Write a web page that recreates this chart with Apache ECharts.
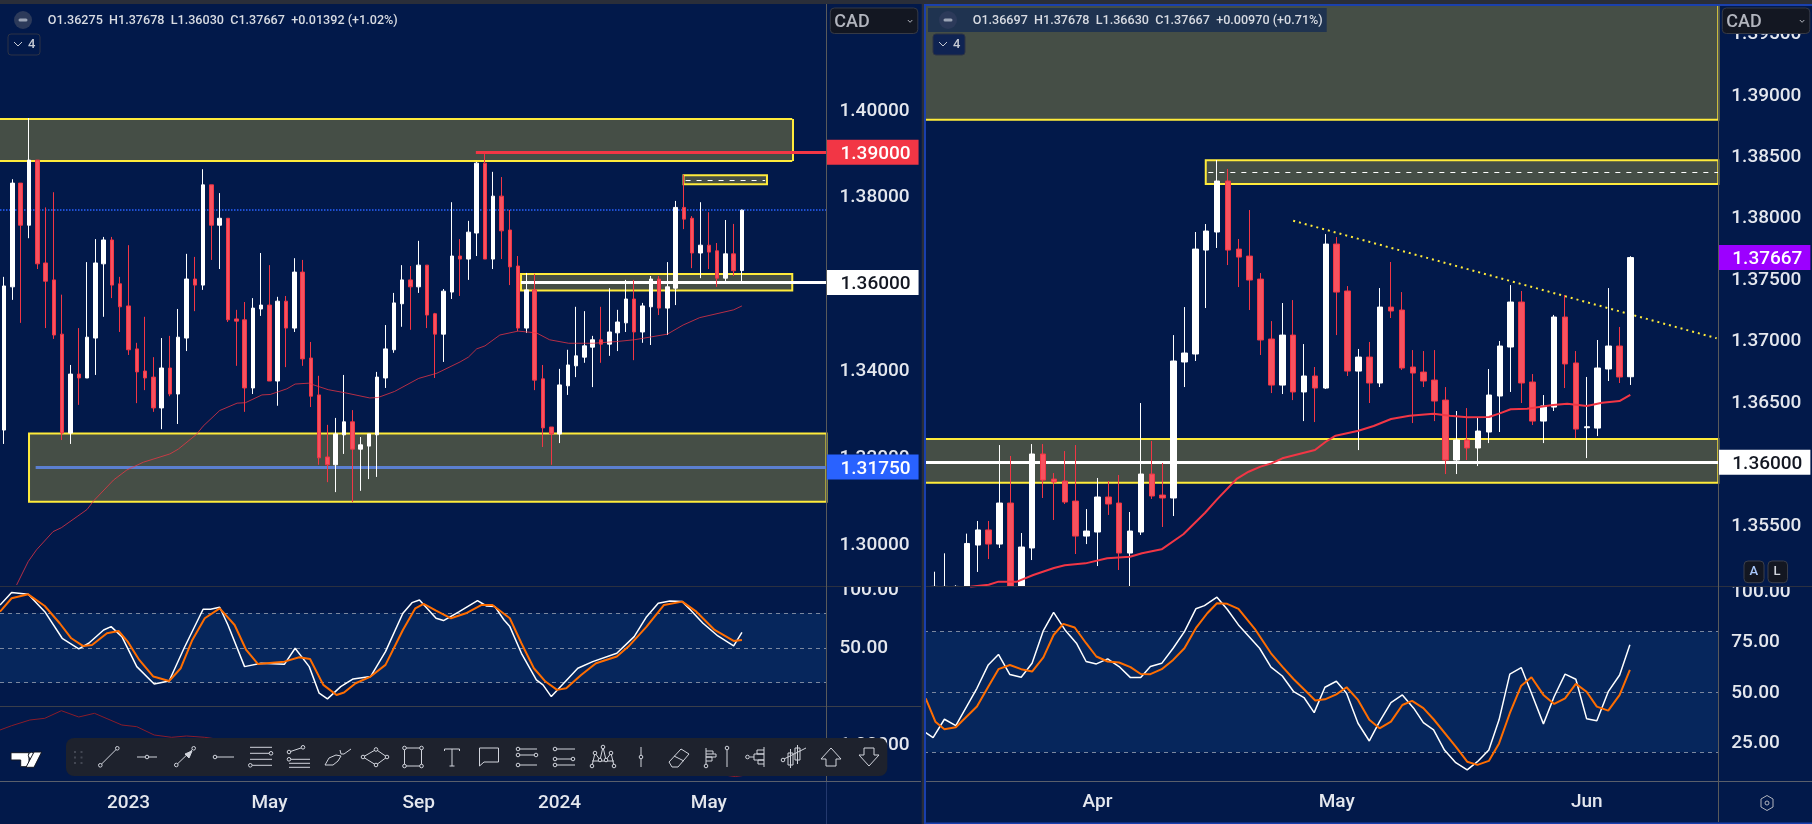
<!DOCTYPE html>
<html>
<head>
<meta charset="utf-8">
<title>USDCAD</title>
<style>html,body{margin:0;padding:0;background:#02194a;overflow:hidden}#chart{width:1812px;height:824px}</style>
<script src="https://cdn.jsdelivr.net/npm/echarts@6/dist/echarts.min.js"></script>
</head>
<body>
<div id="chart"></div>
<script>
// weekly candles, left chart: open, close, low, high
var weeklyCandles = [
[1.3260,1.3592,1.3228,1.3613],[1.3590,1.3829,1.3560,1.3838],[1.3829,1.3732,1.3507,1.3829],[1.3732,1.3882,1.3702,1.3979],
[1.3882,1.3643,1.3631,1.3882],[1.3645,1.3603,1.3495,1.3773],[1.3606,1.3479,1.3470,1.3808],[1.3481,1.3253,1.3237,1.3572],
[1.3253,1.3389,1.3228,1.3410],[1.3389,1.3380,1.3318,1.3495],[1.3380,1.3474,1.3380,1.3647],[1.3472,1.3645,1.3387,1.3700],
[1.3643,1.3698,1.3521,1.3705],[1.3698,1.3594,1.3564,1.3705],[1.3597,1.3544,1.3486,1.3613],[1.3546,1.3445,1.3433,1.3686],
[1.3447,1.3394,1.3322,1.3461],[1.3396,1.3380,1.3352,1.3521],[1.3382,1.3311,1.3302,1.3428],[1.3311,1.3403,1.3262,1.3472],
[1.3403,1.3343,1.3338,1.3477],[1.3343,1.3474,1.3274,1.3539],[1.3472,1.3608,1.3442,1.3666],[1.3608,1.3594,1.3534,1.3659],
[1.3594,1.3825,1.3583,1.3861],[1.3825,1.3732,1.3652,1.3825],[1.3732,1.3748,1.3631,1.3806],[1.3748,1.3514,1.3509,1.3748],
[1.3516,1.3511,1.3408,1.3537],[1.3514,1.3357,1.3302,1.3555],[1.3357,1.3541,1.3343,1.3564],[1.3539,1.3548,1.3523,1.3668],
[1.3548,1.3373,1.3373,1.3640],[1.3373,1.3557,1.3316,1.3567],[1.3557,1.3495,1.3405,1.3569],[1.3495,1.3624,1.3486,1.3656],
[1.3624,1.3424,1.3408,1.3652],[1.3426,1.3338,1.3313,1.3463],[1.3341,1.3196,1.3180,1.3385],[1.3198,1.3180,1.3140,1.3272],
[1.3180,1.3251,1.3117,1.3288],[1.3249,1.3279,1.3205,1.3387],[1.3279,1.3216,1.3094,1.3306],[1.3216,1.3226,1.3120,1.3244],
[1.3223,1.3251,1.3147,1.3251],[1.3249,1.3382,1.3152,1.3394],[1.3380,1.3447,1.3357,1.3502],[1.3445,1.3553,1.3438,1.3576],
[1.3551,1.3606,1.3498,1.3640],[1.3606,1.3590,1.3491,1.3638],[1.3590,1.3640,1.3576,1.3696],[1.3640,1.3525,1.3495,1.3640],
[1.3528,1.3481,1.3380,1.3530],[1.3481,1.3580,1.3417,1.3585],[1.3578,1.3661,1.3562,1.3785],[1.3661,1.3654,1.3569,1.3700],
[1.3654,1.3716,1.3606,1.3742],[1.3714,1.3875,1.3661,1.3878],[1.3875,1.3654,1.3654,1.3896],[1.3654,1.3799,1.3631,1.3855],
[1.3799,1.3719,1.3654,1.3843],[1.3721,1.3636,1.3594,1.3767],[1.3638,1.3495,1.3488,1.3661],[1.3495,1.3583,1.3484,1.3622],
[1.3583,1.3375,1.3352,1.3620],[1.3378,1.3265,1.3221,1.3410],[1.3267,1.3251,1.3180,1.3267],[1.3251,1.3364,1.3230,1.3401],
[1.3362,1.3410,1.3341,1.3445],[1.3408,1.3431,1.3382,1.3544],[1.3428,1.3454,1.3415,1.3534],[1.3451,1.3468,1.3359,1.3477],
[1.3468,1.3458,1.3415,1.3544],[1.3458,1.3486,1.3431,1.3587],[1.3484,1.3509,1.3442,1.3537],[1.3507,1.3562,1.3486,1.3606],
[1.3562,1.3486,1.3421,1.3606],[1.3486,1.3546,1.3461,1.3553],[1.3544,1.3608,1.3456,1.3615],[1.3608,1.3541,1.3525,1.3615],
[1.3541,1.3590,1.3479,1.3647],[1.3587,1.3773,1.3548,1.3788],[1.3773,1.3746,1.3723,1.3848],[1.3748,1.3668,1.3633,1.3753],
[1.3668,1.3686,1.3610,1.3785],[1.3686,1.3670,1.3631,1.3762],[1.3673,1.3610,1.3590,1.3691],[1.3610,1.3666,1.3601,1.3744],
[1.3666,1.3627,1.3615,1.3735],[1.36275,1.37667,1.36030,1.37678]
];
// daily candles, right chart. First few run off the bottom of the pane, kept at the pane edge
var dailyCandles = [
[1.3499,1.3499,1.3499,1.3511],[1.3499,1.3499,1.3499,1.3526],[1.3499,1.3499,1.3499,1.3500],[1.3499,1.3534,1.3499,1.3542],
[1.35327,1.3545,1.35108,1.35523],[1.3545,1.35335,1.35213,1.35523],[1.35335,1.35669,1.35303,1.36141],[1.35669,1.3499,1.3499,1.36052],
[1.3499,1.35311,1.3499,1.35425],[1.35303,1.36068,1.35205,1.36149],[1.36068,1.35856,1.3571,1.36149],[1.35864,1.3584,1.35531,1.35913],
[1.35848,1.35677,1.35661,1.36092],[1.35685,1.354,1.35254,1.36141],[1.354,1.35441,1.35335,1.3562],[1.35433,1.35718,1.35156,1.35873],
[1.35718,1.35661,1.35572,1.35848],[1.35669,1.35262,1.35124,1.35897],[1.35262,1.35441,1.3499,1.35596],[1.35433,1.35905,1.35409,1.36483],
[1.35905,1.35726,1.35702,1.36174],[1.35734,1.3571,1.35474,1.35995],[1.3571,1.36825,1.35563,1.37036],[1.36817,1.3689,1.36613,1.37264],
[1.36882,1.37736,1.36825,1.37875],[1.37728,1.37883,1.37256,1.3794],[1.37875,1.3829,1.37745,1.38461],[1.3829,1.37728,1.37606,1.38388],
[1.37736,1.37671,1.37427,1.37818],[1.37679,1.37484,1.3724,1.38054],[1.37492,1.36996,1.36874,1.37541],[1.37004,1.36629,1.36564,1.3715],
[1.36629,1.37036,1.36556,1.37297],[1.37036,1.36573,1.36507,1.37321],[1.36573,1.36703,1.36336,1.36963],[1.36703,1.36605,1.36328,1.36776],
[1.36605,1.37777,1.36597,1.37858],[1.37777,1.37386,1.37036,1.37834],[1.37395,1.36743,1.36703,1.37435],[1.36743,1.36857,1.361,1.36923],
[1.36857,1.36646,1.36483,1.3698],[1.36646,1.37264,1.36613,1.37419],[1.37264,1.37232,1.37175,1.37631],[1.3724,1.36768,1.36752,1.37386],
[1.36776,1.36727,1.3632,1.36914],[1.36735,1.36662,1.36613,1.36906],[1.3667,1.36499,1.36336,1.36914],[1.36507,1.36019,1.35905,1.36613],
[1.36019,1.36182,1.35905,1.36418],[1.36182,1.36117,1.36019,1.36442],[1.36117,1.36255,1.3597,1.36361],[1.36247,1.36548,1.36157,1.3676],
[1.3654,1.36947,1.36247,1.36988],[1.36939,1.37305,1.36573,1.37443],[1.37305,1.36646,1.36483,1.37395],[1.36654,1.36336,1.36304,1.36719],
[1.36336,1.36459,1.36157,1.36548],[1.3645,1.37183,1.36418,1.372],[1.37183,1.36801,1.36605,1.37362],[1.36809,1.36271,1.36198,1.36906],
[1.36282,1.3629,1.36035,1.36695],[1.36279,1.36768,1.36214,1.36996],[1.3676,1.36947,1.36662,1.37419],[1.36947,1.36695,1.36646,1.37102],
[1.36697,1.37667,1.3663,1.37678]
];
// moving averages: [candle index, price]
var weeklyMA = [[1.5,1.2903],[2.9,1.2957],[3.9,1.2984],[5.9,1.3026],[6.9,1.3035],[8.9,1.3062],[10,1.3077],[10.8,1.3097],[13.2,1.3145],[14.8,1.3168],[16.8,1.3186],[20,1.3205],[21,1.3216],[23.2,1.3250],[24,1.3269],[26,1.3305],[28.1,1.3322],[29.1,1.3323],[31.1,1.3341],[32.1,1.3342],[34.1,1.3355],[35.1,1.3366],[36.7,1.3368],[39.1,1.3353],[41.1,1.3346],[44.1,1.3334],[45.1,1.3335],[47.1,1.3349],[50,1.3379],[52.2,1.3391],[55,1.3417],[56,1.3428],[57,1.3447],[58,1.3454],[59.8,1.3479],[62,1.3488],[64.2,1.3484],[65.8,1.3468],[68.1,1.3460],[71.1,1.3460],[73.9,1.3464],[76,1.3468],[80,1.3481],[81.9,1.3502],[83.9,1.3519],[88,1.3537],[89,1.3546]];
var dailyMA = [[3.3,1.34988],[5,1.35004],[5.9,1.35029],[7.6,1.35029],[9.1,1.35083],[11,1.3514],[12,1.35162],[13.9,1.35178],[15.9,1.35219],[18,1.35232],[19.1,1.3526],[20.9,1.35292],[22.9,1.35415],[24.9,1.3559],[26,1.35699],[27.8,1.35865],[28.9,1.35924],[30,1.35965],[31,1.35992],[32,1.36033],[35,1.361],[36,1.36168],[36.9,1.36217],[39,1.36258],[40.4,1.36296],[42,1.36353],[43.7,1.3638],[45.9,1.36396],[47.4,1.3638],[49,1.36367],[51,1.36369],[52,1.36399],[53,1.36432],[54.5,1.36437],[56.9,1.36467],[58.2,1.36477],[60,1.36459],[61.4,1.36485],[63,1.36499],[64,1.3655]];
// stochastic lines: [candle index, value]
var weeklyK = [[-0.5,87.2],[0.9,97.9],[2.9,96.4],[4.9,81.4],[7,58.4],[9,49.2],[10.2,54.1],[12,65.6],[12.9,68.5],[14.2,59.8],[16,33.9],[18.1,18.9],[19.9,21.5],[21.7,49.8],[24,83.5],[24.9,83.5],[26,85.2],[27,69.9],[29,33.9],[31,36.8],[33.8,35.9],[35.1,49.8],[36.8,33.9],[38,10.9],[39,6],[40.6,16.6],[42.1,23.3],[44.2,25.3],[46,46.9],[48.1,80],[49.2,89.2],[50.1,91.5],[52.1,75.7],[53,73.7],[54.9,81.4],[57.1,90.9],[58.2,86.3],[59.2,85.8],[60.3,74.2],[61,68.5],[62.4,45.4],[64.2,22.4],[65,18.1],[66,8],[67.5,19.5],[69.2,32.5],[71,38.2],[73.9,45.4],[76,59.8],[77.5,77.1],[78.9,88.6],[80.3,90.7],[81.8,90.1],[82.8,82.9],[84.3,71.4],[86.1,60.4],[88,51.8],[89,63.6]];
var weeklyD = [[-0.5,81.4],[0.9,93],[2.9,96.4],[4.9,86.3],[6.7,71.4],[8.1,58.4],[9.5,51.8],[10.6,52.6],[12.4,62.7],[13.8,64.7],[14.9,55.5],[16.3,39.7],[18,25.3],[19.9,21.5],[21.3,32.5],[22.7,57],[24.2,75.7],[26,84.3],[27.8,69.9],[29.2,48.3],[30.6,36.2],[33.8,38.2],[35.6,42],[36.9,40.5],[38.5,18.1],[40.1,9.4],[41,11.5],[42.4,19.5],[44.2,25.3],[46,35.4],[48.1,65.6],[49.6,84.3],[50.6,88.1],[52.1,82.3],[53.9,75.7],[55.7,80],[57.6,87.2],[58.9,87.2],[61,75.7],[62.4,54.1],[63.9,32.5],[65.3,21],[66.7,13.8],[67.8,15.2],[69.6,26.7],[71.4,36.8],[73.9,42.6],[75.3,51.2],[77.5,68.5],[79.6,87.2],[81.8,90.1],[83.5,81.4],[85.7,65.6],[88,56.1],[89,57]];
var dailyK = [[-0.79,29.8],[-0.11,27.3],[0.93,36.4],[1.98,33.2],[3.92,51.8],[4.96,63.4],[5.9,68.6],[6.95,58.6],[7.99,57.3],[8.99,64.2],[10.03,80.5],[10.97,89.5],[12.02,80.8],[13.07,74.2],[13.96,65.1],[14.9,63.9],[15.94,66.4],[16.99,62.6],[18.04,57.1],[18.98,57.1],[19.87,62.6],[20.91,64.2],[21.96,71.7],[23,80],[24.05,91.3],[24.84,92.9],[25.99,97.1],[26.93,91.1],[27.97,83.3],[29.91,71.7],[30.96,62.3],[32,57.9],[33.05,50.1],[33.99,47.2],[34.93,39.7],[35.92,52.3],[36.97,55.3],[37.91,49.3],[38.96,34.4],[40,25.6],[40.94,35.2],[41.99,44.7],[43.04,48.5],[44.08,41.9],[44.97,34.7],[45.91,31.1],[46.91,21.1],[47.95,14.8],[49,11.2],[49.94,15.3],[50.99,21.1],[51.93,36.1],[52.92,58.8],[53.97,62.1],[54.91,49.3],[56.01,34.1],[57,47.7],[58,58.8],[58.99,56.3],[59.98,36.7],[60.92,35.7],[61.97,50.1],[63.02,58.4],[63.96,73.4]];
var dailyD = [[-0.79,46.8],[0.1,35.2],[0.93,31.4],[1.98,32.4],[3.92,42.7],[4.96,52.6],[5.9,61.3],[6.95,63.4],[7.99,61.3],[8.99,60.1],[10.03,67.2],[10.97,78.3],[11.86,83.8],[12.91,82],[13.96,74.2],[14.9,67.6],[15.94,65.1],[16.99,64.6],[18.04,62.3],[18.98,58.9],[19.87,58.8],[20.91,61.3],[21.96,65.9],[23,71.7],[24.05,81.7],[25.1,89.1],[25.99,94.1],[26.93,93.8],[27.97,91.3],[29.54,80.8],[30.96,69.2],[32,62.6],[33.05,56.3],[33.99,51.3],[35.03,45.7],[35.92,46.3],[36.97,48.8],[37.91,52.3],[38.96,46],[40,36.1],[40.94,31.9],[41.99,35.2],[43.04,43.5],[43.93,45.5],[44.97,41.9],[45.91,36.4],[47.95,22.8],[49,15.3],[49.94,13.7],[50.99,15.7],[51.93,24.4],[52.92,39.4],[53.97,53.1],[54.91,57.3],[56.01,48.5],[57,44],[58,46.8],[58.99,54],[59.98,50.1],[60.92,42.7],[61.97,40.7],[63.02,48.5],[63.96,60.9]];
// third pane under the left stochastic, mostly behind the drawing toolbar
var weeklyThird = [[-0.5,51.3],[0.9,55.6],[3.1,61.3],[4.9,63],[6.9,70.6],[9,64.3],[10.9,68],[14.2,56.3],[16,54.6],[18.1,46.3],[20.2,44],[22,45.3],[24.2,44],[40,25],[60,15],[80,8],[87.1,6],[88.2,4.7],[89.3,6]];

// axis ticks
var leftPriceTicks = [1.40,1.38,1.36,1.34,1.32,1.30];
var rightPriceTicks = [1.395,1.39,1.385,1.38,1.375,1.37,1.365,1.36,1.355];
var leftMonthPos = [15,32,50,67,85];
var leftMonthNames = ['2023','May','Sep','2024','May'];
var rightMonthPos = [15,37,60];
var rightMonthNames = ['Apr','May','Jun'];

var BG = '#02194a', LABEL = '#e4e7ee', FONT = 'Roboto';
var L_MIN = -0.5006, L_MAX = 99.2, R_MIN = -0.947, R_MAX = 72.09;

// drawn levels: [from index, to index, top price, bottom price]
var leftZones = [[L_MIN,95.07,1.3977,1.3880],[81.95,92.02,1.3847,1.38263],[62.35,95.07,1.36194,1.35818],[3,L_MAX,1.32519,1.30951]];
var rightZones = [[R_MIN,R_MAX,1.3979,1.38788],[24.96,R_MAX,1.3846,1.38265],[R_MIN,R_MAX,1.3619,1.35834]];
var trendFrom = [33,1.37967], trendTo = [71.94,1.3701];

function xAxis(gridIndex, min, max, pos, names) {
    return {
        type: 'value', gridIndex: gridIndex, min: min, max: max, show: !!pos,
        splitLine: {show: false}, axisTick: {show: false}, axisLine: {show: false},
        axisLabel: {
            customValues: pos || [], margin: 12, color: LABEL, fontFamily: FONT, fontSize: 19, fontWeight: 500,
            formatter: function (v) { return names[pos.indexOf(v)]; }
        }
    };
}
// topPad pushes the digits down a little inside the label, by half its value
function yAxis(gridIndex, min, max, ticks, fmt, topPad) {
    return {
        type: 'value', gridIndex: gridIndex, min: min, max: max, position: 'right',
        splitLine: {show: false}, axisTick: {show: false}, axisLine: {show: false},
        axisLabel: {
            customValues: ticks, margin: 13, color: LABEL, fontFamily: FONT, fontSize: 19, fontWeight: 500, align: 'left',
            rich: {t: {padding: [topPad || 0, 0, 0, 0], color: LABEL, fontFamily: FONT, fontSize: 19, fontWeight: 500}},
            formatter: function (v) { return '{t|' + fmt(v) + '}'; }
        }
    };
}
function price(v) { return v.toFixed(5); }
function two(v) { return v.toFixed(2); }

function zoneAreas(zones) {
    return zones.map(function (z) { return [{coord: [z[0], z[2]]}, {coord: [z[1], z[3]]}]; });
}
function level(x0, x1, p, style, tag) {
    var from = {coord: [x0, p], lineStyle: style};
    if (tag) {
        from.label = {
            show: true, position: 'end', distance: 0, formatter: '{t|' + tag.text + '}', backgroundColor: tag.bg, padding: [3, 8, 3, 14],
            rich: {t: {color: tag.color, fontFamily: FONT, fontSize: 19, fontWeight: 500, lineHeight: 19, padding: [4, 0, 0, 0]}}
        };
    }
    return [from, {coord: [x1, p]}];
}
// empty series that only carries the zones and horizontal levels of one pane
function marks(ax, areas, areaStyle, lines) {
    return {
        type: 'line', xAxisIndex: ax, yAxisIndex: ax, data: [], silent: true, z: 1,
        markArea: {silent: true, z: 1, itemStyle: areaStyle, data: areas},
        markLine: {silent: true, z: 1.5, symbol: 'none', label: {show: false}, data: lines}
    };
}
function candles(ax, rows, w) {
    return {
        type: 'candlestick', xAxisIndex: ax, yAxisIndex: ax, z: 3, barWidth: w, silent: true,
        data: rows.map(function (r, i) { return [i, r[0], r[1], r[2], r[3]]; }),
        itemStyle: {color: '#ffffff', color0: '#f7525f', borderColor: '#ffffff', borderColor0: '#f23645', borderWidth: 1}
    };
}
function curve(ax, pts, color, width, opacity) {
    return {
        type: 'line', xAxisIndex: ax, yAxisIndex: ax, z: 4, data: pts, showSymbol: false, silent: true,
        lineStyle: {color: color, width: width, opacity: opacity === undefined ? 1 : opacity}
    };
}

var ZONE = {color: '#454e46', borderColor: '#ffeb3b', borderWidth: 2};
var BAND = {color: '#06265c', borderWidth: 0};
var dash = {color: '#7a879f', width: 1, type: [4, 4]};
var edge = {color: '#ffeb3b', width: 2, type: 'solid'};

// the top zone runs off the left side of the page, so it gets open-ended edges
var leftAreas = zoneAreas(leftZones);
leftAreas[0][0].itemStyle = {color: '#454e46', borderWidth: 0};

var series = [
    marks(0, leftAreas, ZONE, [
        level(L_MIN, 95.07, 1.3977, edge),
        level(L_MIN, 95.07, 1.3880, edge),
        [{coord: [95.07, 1.3977], lineStyle: edge}, {coord: [95.07, 1.3880]}],
        level(L_MIN, L_MAX, 1.37667, {color: '#2962ff', width: 1.5, type: [1.5, 1.5]}),
        level(82.2, 91.8, 1.38367, {color: '#ffffff', width: 1, type: [5, 6]}),
        level(56.9, L_MAX, 1.39, {color: '#f23645', width: 3, type: 'solid'}, {text: '1.39000', color: '#ffffff', bg: '#f23645'}),
        level(62.35, L_MAX, 1.36, {color: '#ffffff', width: 3, type: 'solid'}, {text: '1.36000', color: '#131722', bg: '#ffffff'}),
        level(3.8, L_MAX, 1.3175, {color: '#5b7fd0', width: 3, type: 'solid'}, {text: '1.31750', color: '#ffffff', bg: '#2962ff'})
    ]),
    candles(0, weeklyCandles, 4),
    curve(0, weeklyMA, '#f23645', 1, 0.75),
    marks(1, [[{coord: [L_MIN, 80]}, {coord: [L_MAX, 20]}]], BAND, [
        level(L_MIN, L_MAX, 80, dash), level(L_MIN, L_MAX, 50, dash), level(L_MIN, L_MAX, 20, dash)
    ]),
    curve(1, weeklyK, '#ffffff', 1.5),
    curve(1, weeklyD, '#ff6d00', 2),
    curve(2, weeklyThird, '#8a1c2a', 1),

    marks(3, zoneAreas(rightZones), ZONE, [
        level(25.2, R_MAX, 1.3836, {color: '#ffffff', width: 1, type: [5, 6]}),
        level(R_MIN, R_MAX, 1.36, {color: '#ffffff', width: 3, type: 'solid'}, {text: '1.36000', color: '#131722', bg: '#ffffff'}),
        level(R_MAX - 1, R_MAX, 1.37667, {width: 0}, {text: '1.37667', color: '#ffffff', bg: '#9c00ff'}),
        [{coord: trendFrom, lineStyle: {color: '#ffeb3b', width: 2, type: [2, 4]}}, {coord: trendTo}]
    ]),
    candles(3, dailyCandles, 6),
    curve(3, dailyMA, '#f23645', 2),
    marks(4, [[{coord: [R_MIN, 80]}, {coord: [R_MAX, 20]}]], BAND, [
        level(R_MIN, R_MAX, 80, dash), level(R_MIN, R_MAX, 50, dash), level(R_MIN, R_MAX, 20, dash)
    ]),
    curve(4, dailyK, '#ffffff', 1.5),
    curve(4, dailyD, '#ff6d00', 2)
];

// panel chrome
var chrome = [];
function rect(x, y, w, h, fill, z, r, stroke) {
    chrome.push({type: 'rect', silent: true, z: z || 20, shape: {x: x, y: y, width: w, height: h, r: r || 0}, style: {fill: fill, stroke: stroke || null, lineWidth: 1}});
}
function txt(x, y, s, size, color, weight) {
    chrome.push({type: 'text', silent: true, z: 25, x: x, y: y, style: {text: s, fill: color, font: (weight || 500) + ' ' + size + 'px ' + FONT, verticalAlign: 'middle'}});
}
function poly(pts, color, w, fill, z) {
    var p = [];
    for (var i = 0; i < pts.length; i += 2) p.push([pts[i], pts[i + 1]]);
    chrome.push({type: fill ? 'polygon' : 'polyline', silent: true, z: z || 22, shape: {points: p}, style: {stroke: color, lineWidth: w, fill: fill || null}});
}
function dot(x, y, r, stroke, fill, z) {
    chrome.push({type: 'circle', silent: true, z: z || 23, shape: {cx: x, cy: y, r: r}, style: {stroke: stroke, lineWidth: 1, fill: fill}});
}

// strips cutting the tops of the 100.00 labels
rect(828, 572, 90, 14, BG, 10);
rect(1720, 572, 90, 14.7, BG, 10);
// top strip, frame and separators
rect(0, 0, 1812, 4, '#2a2e39');
rect(921.7, 4, 2.3, 820, '#2a2e39');
rect(924, 4, 888, 2, '#1a40ad');
rect(924, 4, 2, 820, '#1a40ad');
rect(924, 822.5, 888, 1.5, '#1a40ad');
rect(0, 586, 921, 1, '#2b3040');
rect(0, 706, 921, 1, '#3a3e4a');
rect(0, 781, 921, 1, '#5a5f6b');
rect(826, 4, 1, 777, '#5a5a5a');
rect(826, 782, 1, 42, '#24396e');
rect(926, 586, 886, 1, '#2b3040');
rect(926, 781, 886, 1, '#5a5f6b');
rect(1718, 6, 1, 816, '#5a5a5a');

// headers
function header(cx, tx, s, box) {
    dot(cx, 20, 9, 'none', '#2c3a5a', 21);
    rect(cx - 4.5, 18.5, 9, 3, '#9aa3b5', 24, 1.5);
    txt(tx, 20.5, s, 12.6, '#d8dbe2', 500);
    rect(box, 34, 32, 21, box > 900 ? '#0f2352' : BG, 21, 3, '#2c3345');
    poly([box + 6, 42, box + 10, 46, box + 14, 42], '#c5c9d3', 1);
    txt(box + 20, 45, '4', 13, '#c5c9d3', 500);
}
rect(928, 8, 398.7, 24, '#1f3350', 20.5);
header(23, 47.7, 'O1.36275  H1.37678  L1.36030  C1.37667  +0.01392 (+1.02%)', 8);
header(948, 972.7, 'O1.36697  H1.37678  L1.36630  C1.37667  +0.00970 (+0.71%)', 933);
function cadBox(x) {
    rect(x, 8, 87.5, 25.5, '#131722', 21, 4, '#363a45');
    txt(x + 4, 22, 'CAD', 18, '#b2b5be', 500);
    poly([x + 77.5, 20, x + 79.8, 22.3, x + 82, 20], '#b2b5be', 1);
}
cadBox(830.3);
cadBox(1722.3);
// A / L buttons and settings icon
rect(1744, 561, 20, 21.7, '#131722', 21, 4, '#3a3e4a');
rect(1768, 561, 19.5, 21.7, '#131722', 21, 4, '#3a3e4a');
txt(1749.5, 572, 'A', 13, '#a8c7fa', 500);
txt(1773.5, 572, 'L', 13, '#d1d4dc', 500);
poly([1767, 795.5, 1773, 799, 1773, 807, 1767, 810.5, 1761, 807, 1761, 799, 1767, 795.5], '#b2b5be', 1);
dot(1767, 803, 2, '#b2b5be', 'none');

// tradingview mark
poly([11, 752.7, 29, 752.7, 29, 766.7, 20.7, 766.7, 20.7, 760, 11, 760], '#131722', 1, '#ffffff');
dot(31.5, 755.5, 3.2, '#131722', '#ffffff', 22);
poly([34, 752, 41.7, 752, 34, 767.3, 26, 767.3], '#131722', 1, '#ffffff');

// drawing toolbar
rect(66, 738, 821.3, 38, '#1e222d', 20, 8);
for (var g = 0; g < 6; g++) {
    rect(74 + (g % 2) * 6.5, 751 + Math.floor(g / 2) * 5.5, 2, 2, '#434753', 21);
}
var IC = '#d1d4dc';
var tools = [
    {x: 109, l: [[-8.7, 8.3, 8.3, -8.7]], d: [[-8.7, 8.3], [8.3, -8.7]]},
    {x: 147, l: [[-10, 0, 10, 0]], d: [[0, 0]]},
    {x: 185, l: [[-8.7, 8, 8.7, -8.7]], f: [[0, -3, 7, -6, 4, 1]], d: [[-8.7, 8], [8.7, -8.7]]},
    {x: 223, l: [[-8, 0, 11, 0]], d: [[-8, 0]]},
    {x: 261, l: [[-11, -9.7, 11, -9.7], [-11, -3.7, 11, -3.7], [-11, 2.3, 11, 2.3], [-11, 8.3, 11, 8.3]], d: [[10, -3.7], [-10.7, 8.3]]},
    {x: 299, l: [[-10, -5, 4, -9.7], [-10, 2.3, 11, 2.3], [-10, 6.3, 11, 6.3], [-10, 10.3, 11, 10.3]], d: [[-10, -5], [4, -9.7], [-10, 2.3]]},
    {x: 338, l: [[-13, 8, -9, 1, -2, -2, 3, -1, 0, 4, -5, 8, -13, 8], [2, -7, 3, -3, 6, -3, 13, -8]], d: []},
    {x: 376, l: [[-13, 0, 0, -7.5, 11, 0, 0, 8, -13, 0]], d: [[-13, 0], [0, -7.5], [11, 0], [0, 8]]},
    {x: 413, l: [[-8.5, -9, 8.5, -9, 8.5, 9, -8.5, 9, -8.5, -9]], d: [[-8.5, -9], [8.5, -9], [-8.5, 9], [8.5, 9]]},
    {x: 452, l: [[-7.5, -6, -7.5, -8, 7.5, -8, 7.5, -6], [0, -8, 0, 9], [-2.5, 9, 2.5, 9]], d: []},
    {x: 489, l: [[-9.5, -9, 9.5, -9, 9.5, 5, -5, 5, -9.5, 9, -9.5, -9]], d: []},
    {x: 526, l: [[-8, -8, 11, -8], [-8, -2, 11, -2], [-8, 8, 11, 8]], d: [[-8, -8], [-8, -2], [10, -2], [-8, 8]]},
    {x: 564, l: [[-8, -8, 11, -8], [-8, 2, 11, 2], [-8, 8, 11, 8]], d: [[-9, -8], [-9, 2], [9, 2], [-9, 8]]},
    {x: 603, l: [[-11, 4, 11, 4], [-11, 9, -8, -4, -3, 3, 0, -10, 3, 3, 8, -4, 11, 9]], d: [[0, -10], [-8, -4], [8, -4], [-11, 9], [11, 9], [-3, 3], [3, 3]]},
    {x: 641, l: [[0, -10, 0, 10]], d: [[0, 0]]},
    {x: 679, l: [[-10, 5, 2, -8, 10, -3, -1, 10, -7, 10, -10, 5], [-5, -1, 5, 4]], d: []},
    {x: 716, l: [[-10, -9, -10, 7], [-10, -6, -3, -6, -3, -3], [-10, -3, 0, -3, 0, 0, -10, 0], [-10, 0, -4, 0, -4, 4, -10, 4], [11, -7, 11, 10]], d: [[-10, 9], [11, -9]]},
    {x: 755, l: [[9, -10, 9, 10], [9, -7, 2, -7, 2, -3, 9, -3], [9, -3, -1, -3, -1, 3, 9, 3], [9, 3, 3, 3, 3, 7, 9, 7], [-5, 0, -1, 0]], d: [[-7.5, 0]]},
    {x: 793, l: [[-5, -4, 0, -4, 0, 8, -5, 8, -5, -4], [-2.5, -8, -2.5, 11], [2, -9, 7, -9, 7, 3, 2, 3, 2, -9], [4.5, -12, 4.5, 7], [-11, 3, 13, -9]], d: [[-10, 3]]},
    {x: 831, l: [[0, -9, 10, 2, 5, 2, 5, 9, -5, 9, -5, 2, -10, 2, 0, -9]], d: []},
    {x: 869, l: [[0, 9, 10, -2, 5, -2, 5, -9, -5, -9, -5, -2, -10, -2, 0, 9]], d: []}
];
tools.forEach(function (t) {
    function at(a) { return a.map(function (v, i) { return i % 2 ? v + 757 : v + t.x; }); }
    t.l.forEach(function (a) { poly(at(a), IC, 1); });
    (t.f || []).forEach(function (a) { poly(at(a), IC, 1, IC); });
    t.d.forEach(function (d) { dot(t.x + d[0], 757 + d[1], 1.8, IC, '#1e222d'); });
});
// own layer, so the strips and toolbar sit above axis labels
chrome.forEach(function (el) { el.zlevel = 1; });

var chart = echarts.init(document.getElementById('chart'), null, {renderer: 'canvas'});
chart.setOption({
    animation: false,
    backgroundColor: BG,
    grid: [
        {left: 0, width: 826.5, top: 4, height: 582},
        {left: 0, width: 826.5, top: 586, height: 120.3},
        {left: 0, width: 826.5, top: 706.3, height: 75},
        {left: 924, width: 794.3, top: 3, height: 583.7},
        {left: 924, width: 794.3, top: 586.7, height: 194.3}
    ],
    xAxis: [
        xAxis(0, L_MIN, L_MAX), xAxis(1, L_MIN, L_MAX), xAxis(2, L_MIN, L_MAX, leftMonthPos, leftMonthNames),
        xAxis(3, R_MIN, R_MAX), xAxis(4, R_MIN, R_MAX, rightMonthPos, rightMonthNames)
    ],
    yAxis: [
        yAxis(0, 1.29007, 1.42417, leftPriceTicks, price, 4),
        yAxis(1, -0.4, 103.6, [100, 50], two),
        yAxis(2, 0, 75, [36.3], function () { return '1.00000'; }),
        yAxis(3, 1.34988, 1.39739, rightPriceTicks, price, 4),
        yAxis(4, 5.7, 102.3, [100, 75, 50, 25], two, 2)
    ],
    series: series,
    graphic: {elements: chrome}
});
</script>
</body>
</html>
